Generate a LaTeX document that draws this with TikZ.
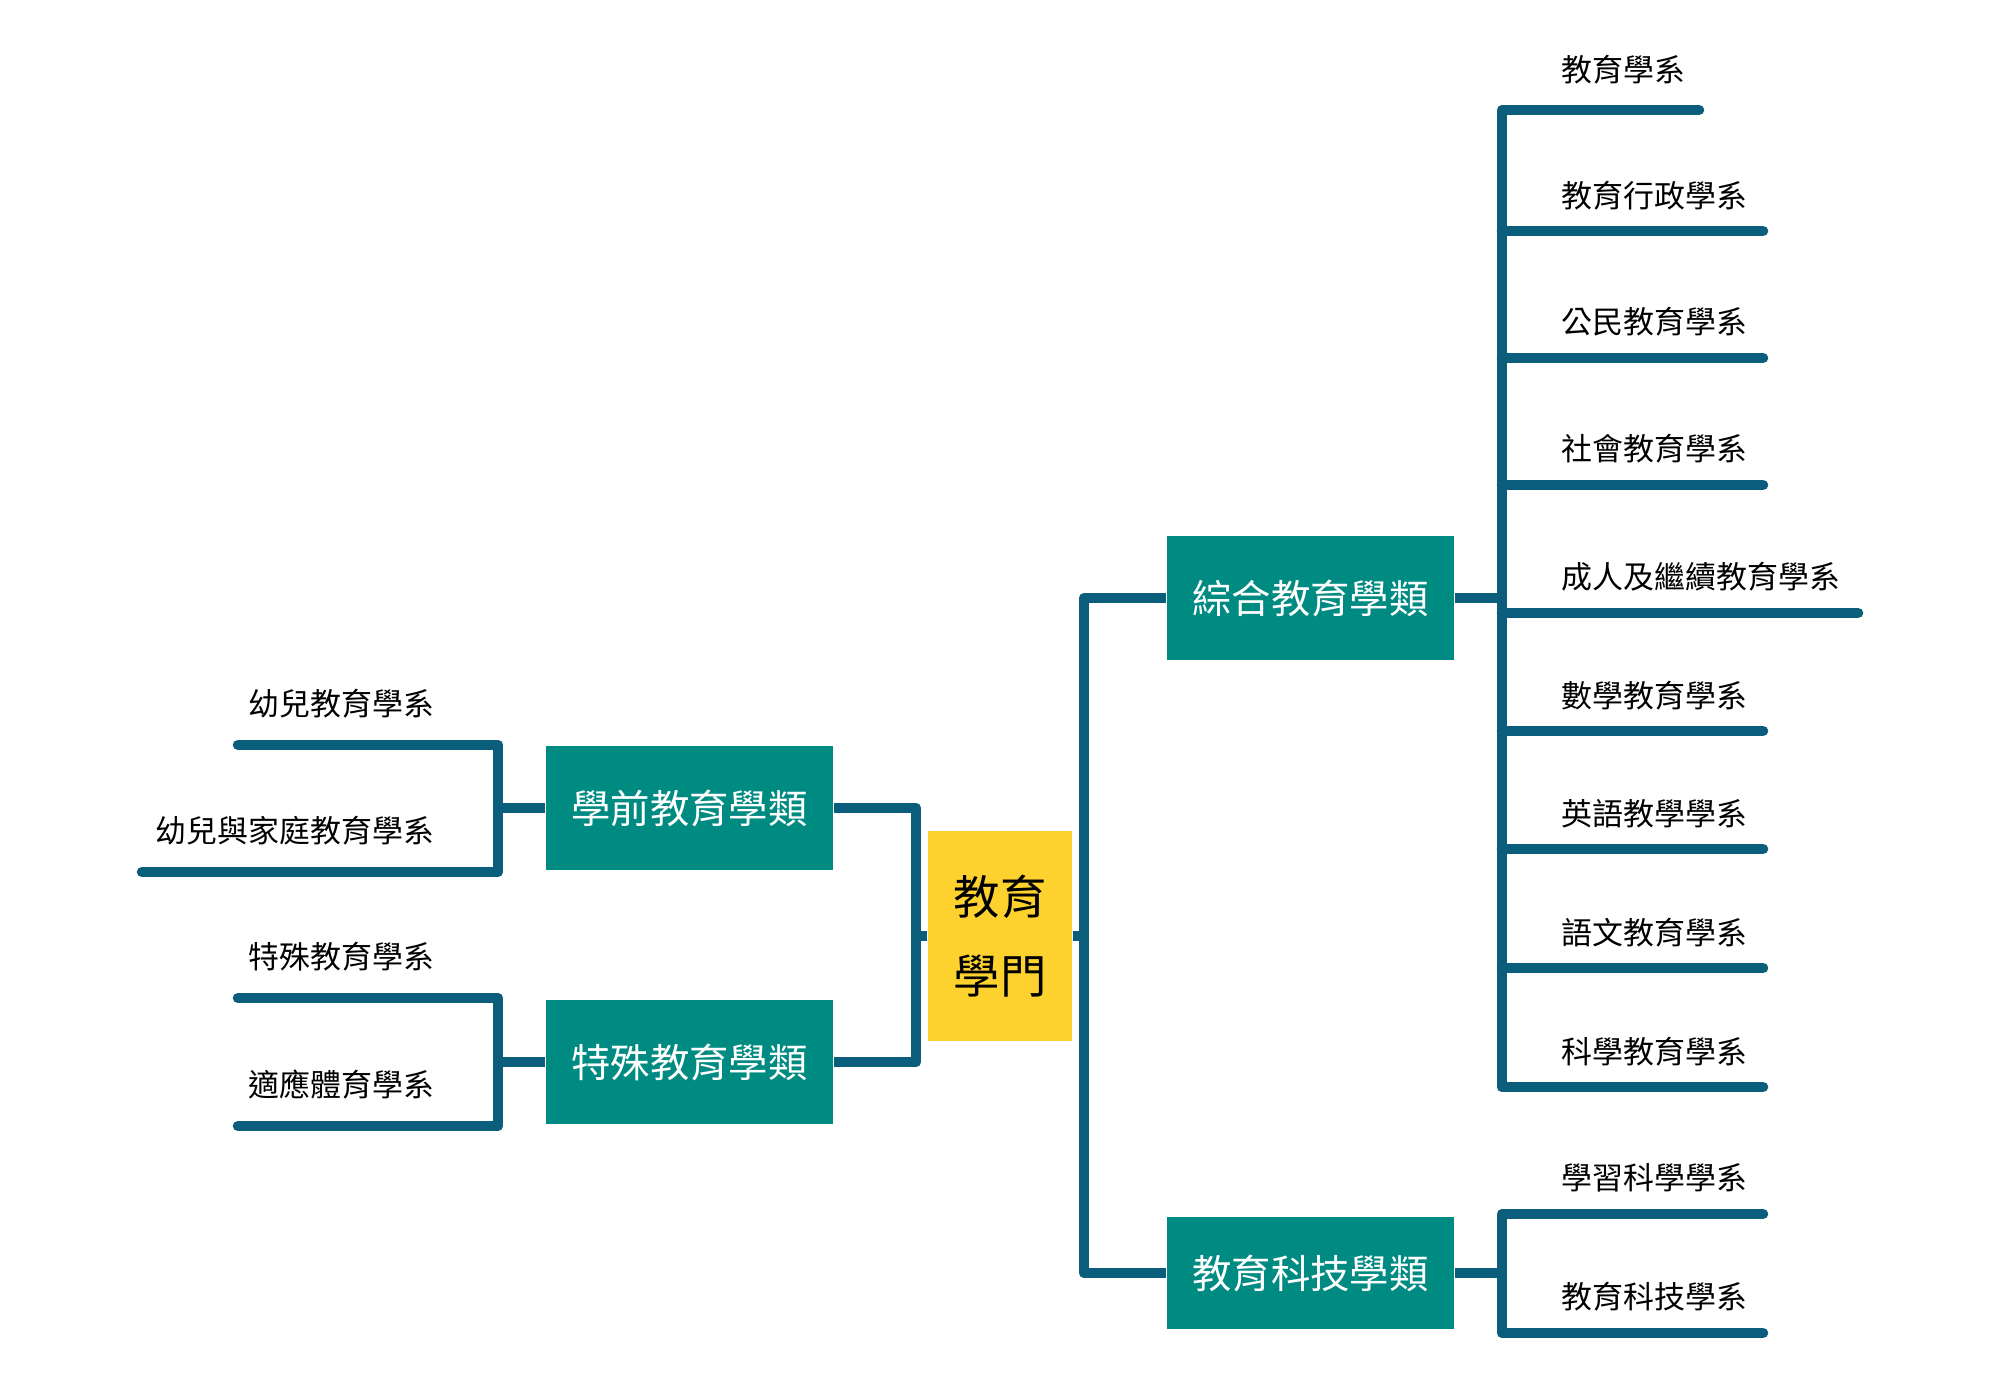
\documentclass[tikz,border=0pt]{standalone}
\usepackage{fontspec}
\setmainfont{Noto Sans CJK TC}
\usepackage{xcolor}
\definecolor{petroleo}{RGB}{10, 94, 124}
\definecolor{turquesa}{RGB}{0, 139, 130}
\definecolor{amarelo}{RGB}{253, 210, 46}
\usepackage{tikz}
\usetikzlibrary{calc}

\begin{document}
\begin{tikzpicture}[x=0.01cm, y=-0.01cm,
		galho/.style={draw=petroleo, line width=3pt, line cap=round, line join=round},
		ramo/.style={draw=petroleo, line width=3pt, line join=round},
		classe/.style={fill=turquesa, text=white, font=\fontsize{11.2}{13}\selectfont, minimum width=2.87cm, minimum height=1.24cm, inner sep=0pt},
		curso/.style={font=\fontsize{8.8}{10}\selectfont, inner sep=0pt}]
	\useasboundingbox (0,0) rectangle (2000,1388);
	
	\node [fill=amarelo, minimum width=1.44cm, minimum height=2.1cm, inner sep=0pt, align=center, font=\fontsize{13.2}{22.4}\selectfont] (R) at (1000,936) {教育\\學門};
	
	\node [classe] (ZH) at (1310.5,598) {綜合教育學類};
	\node [classe, minimum height=1.12cm] (KJ) at (1310.5,1273) {教育科技學類};
	\node [classe] (XQ) at (689.5,808) {學前教育學類};
	\node [classe] (TS) at (689.5,1062) {特殊教育學類};
	
	\coordinate (JL) at (916,936);
	\coordinate (JR) at (1084,936);
	\draw [ramo] (XQ.east) -| (JL) |- (TS.east);
	\draw [ramo] (R.west) -- (JL);
	\draw [ramo] (ZH.west) -| (JR) |- (KJ.west);
	\draw [ramo] (R.east) -- (JR);
	
	% lado esquerdo
	\node [curso, anchor=east] (y1) at (435,704) {幼兒教育學系};
	\node [curso, anchor=east] (y2) at (435,831) {幼兒與家庭教育學系};
	\node [curso, anchor=east] (s1) at (435,957) {特殊教育學系};
	\node [curso, anchor=east] (s2) at (435,1085) {適應體育學系};
	\coordinate (gy1) at (498,745);
	\coordinate (gy2) at (498,872);
	\coordinate (gs1) at (498,998);
	\coordinate (gs2) at (498,1126);
	\draw [galho] (238,745) coordinate (ey1) -- (gy1) -- (gy2) -- (142,872) coordinate (ey2);
	\draw [galho] (238,998) coordinate (es1) -- (gs1) -- (gs2) -- (238,1126) coordinate (es2);
	\draw [ramo] (XQ.west) -- (gy1 |- XQ.west);
	\draw [ramo] (TS.west) -- (gs1 |- TS.west);
	
	% lado direito
	\node [curso, anchor=west] (c1) at (1561,70) {教育學系};
	\node [curso, anchor=west] (c2) at (1561,196) {教育行政學系};
	\node [curso, anchor=west] (c3) at (1561,322) {公民教育學系};
	\node [curso, anchor=west] (c4) at (1561,449) {社會教育學系};
	\node [curso, anchor=west] (c5) at (1561,577) {成人及繼續教育學系};
	\node [curso, anchor=west] (c6) at (1561,696) {數學教育學系};
	\node [curso, anchor=west] (c7) at (1561,814) {英語教學學系};
	\node [curso, anchor=west] (c8) at (1561,933) {語文教育學系};
	\node [curso, anchor=west] (c9) at (1561,1052) {科學教育學系};
	\node [curso, anchor=west] (k1) at (1561,1178) {學習科學學系};
	\node [curso, anchor=west] (k2) at (1561,1297) {教育科技學系};
	
	\coordinate (t1) at (1502,110);
	\coordinate (t9) at (1502,1087);
	\coordinate (e1) at (1699,110);
	\coordinate (e2) at (1763,231);
	\coordinate (e3) at (1763,358);
	\coordinate (e4) at (1763,485);
	\coordinate (e5) at (1858,613);
	\coordinate (e6) at (1763,731);
	\coordinate (e7) at (1763,849);
	\coordinate (e8) at (1763,968);
	\coordinate (e9) at (1763,1087);
	\draw [galho] (e1) -- (t1) -- (t9) -- (e9);
	\draw [galho] (t1 |- e2) -- (e2);
	\draw [galho] (t1 |- e3) -- (e3);
	\draw [galho] (t1 |- e4) -- (e4);
	\draw [galho] (t1 |- e5) -- (e5);
	\draw [galho] (t1 |- e6) -- (e6);
	\draw [galho] (t1 |- e7) -- (e7);
	\draw [galho] (t1 |- e8) -- (e8);
	\draw [ramo] (ZH.east) -- (t1 |- ZH.east);
	
	\coordinate (ek1) at (1763,1214);
	\coordinate (ek2) at (1763,1333);
	\draw [galho] (ek1) -- (t1 |- ek1) -- (t1 |- ek2) -- (ek2);
	\draw [ramo] (KJ.east) -- (t1 |- KJ.east);
\end{tikzpicture}
\end{document}
